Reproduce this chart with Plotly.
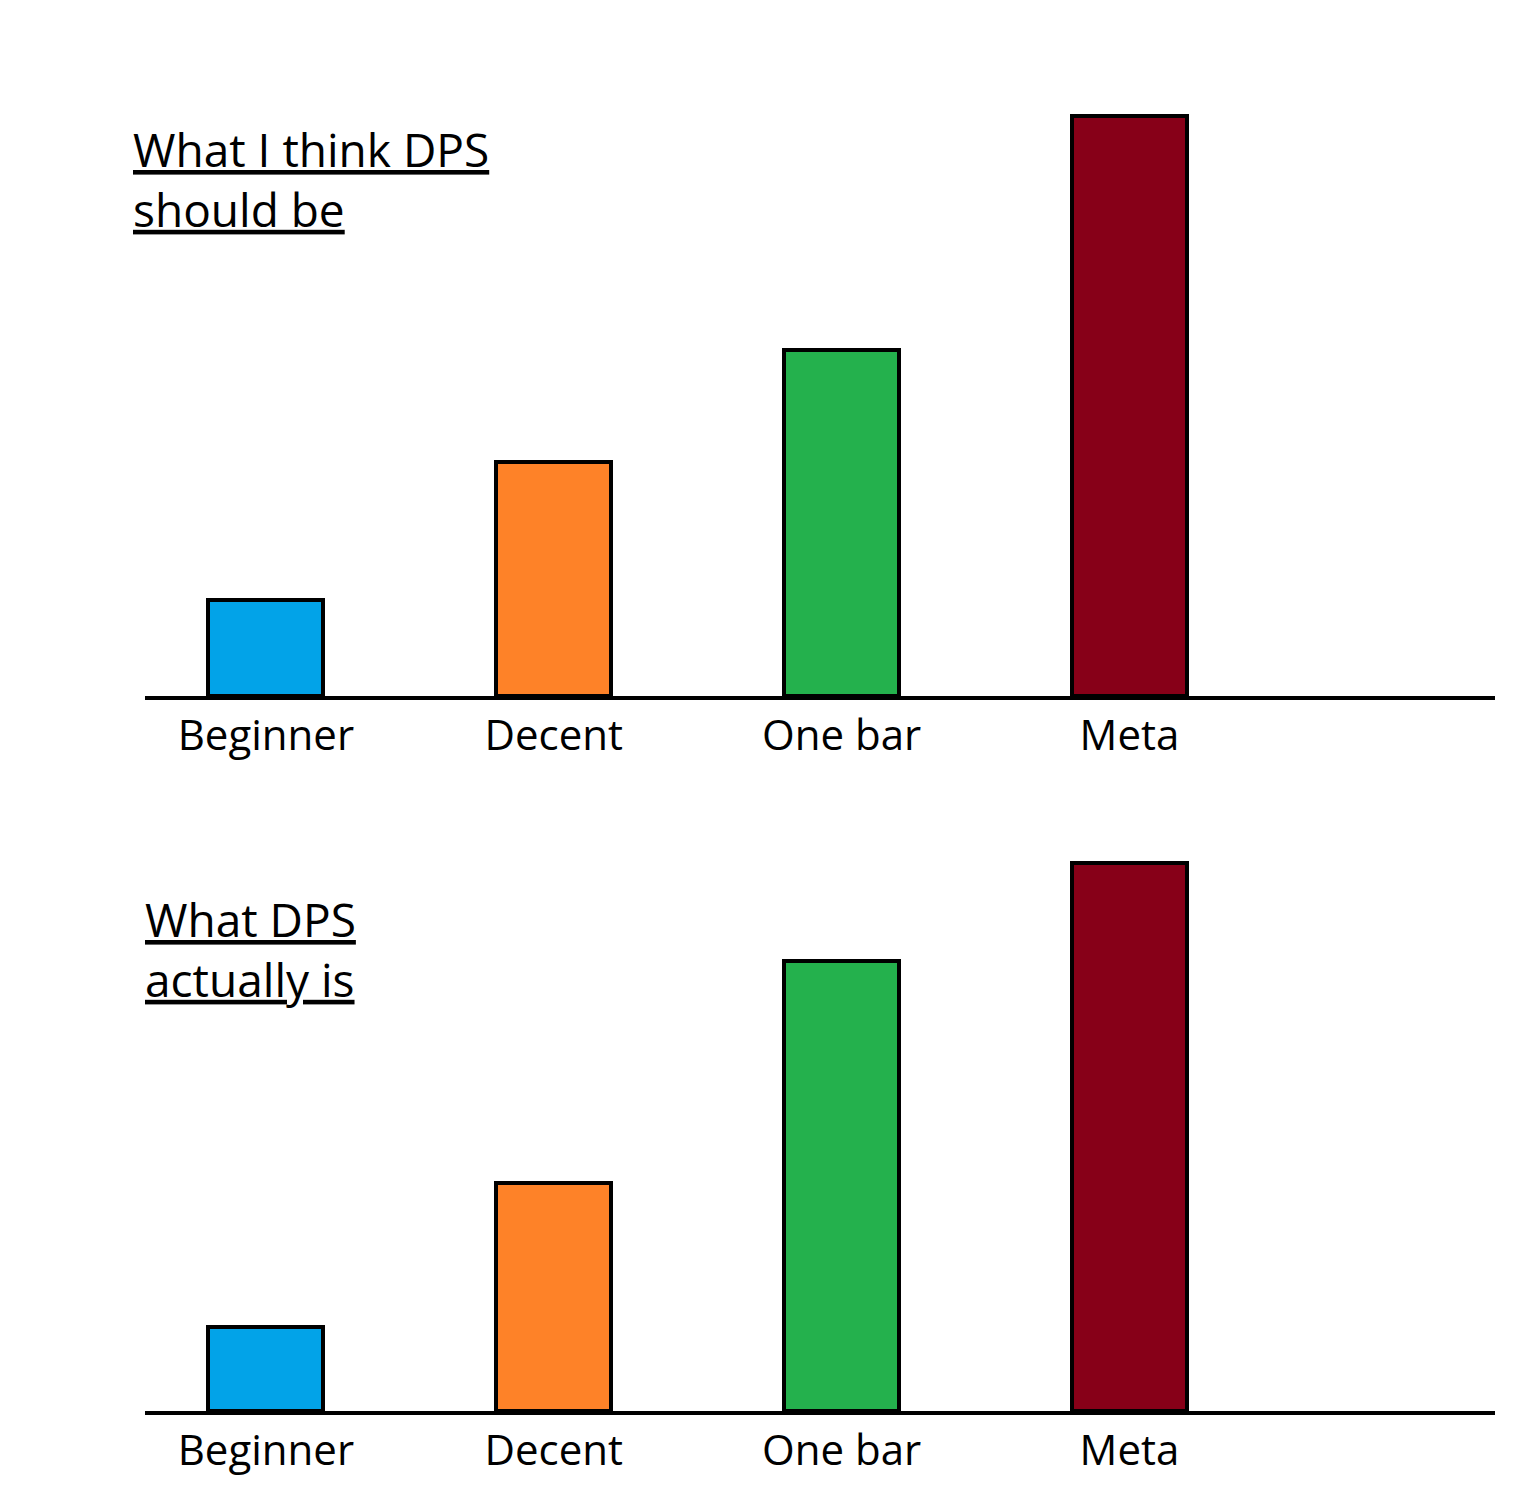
import plotly.graph_objects as go
from plotly.subplots import make_subplots

categories = ["Beginner", "Decent", "One bar", "Meta"]
should_be = [96, 234, 346, 580]
actually_is = [84, 228, 450, 548]
colors = ["#02a3e8", "#fe8228", "#24b14d", "#870018"]

fig = make_subplots(rows=2, cols=1)

for row, vals in [(1, should_be), (2, actually_is)]:
    fig.add_trace(go.Bar(
        x=categories, y=vals, width=0.4,
        marker=dict(color=colors, line=dict(color="black", width=4)),
        showlegend=False), row=row, col=1)

W, H = 1525, 1506
axis_common = dict(showline=True, linecolor="black", linewidth=4, showgrid=False,
                   ticks="", tickfont=dict(family="Open Sans", size=42, color="black"),
                   range=[-0.42, 4.27], domain=[0, 1])
fig.update_layout(
    width=W, height=H, margin=dict(l=137, r=W - 1487, t=0, b=0),
    plot_bgcolor="white", paper_bgcolor="white", bargap=0,
    xaxis=dict(axis_common, anchor="y"),
    xaxis2=dict(axis_common, anchor="y2"),
    yaxis=dict(visible=False, range=[0, 600], domain=[1 - 688 / H, 1 - 88 / H]),
    yaxis2=dict(visible=False, range=[0, 560], domain=[1 - 1403 / H, 1 - 843 / H]),
    annotations=[
        dict(text="<u>What I think DPS</u><br><u>should be</u>", xref="paper", yref="paper",
             x=(123 - 137) / (1487 - 137), y=1 - 108 / H, xanchor="left", yanchor="top",
             align="left", showarrow=False, font=dict(family="Open Sans", size=46, color="black")),
        dict(text="<u>What DPS</u><br><u>actually is</u>", xref="paper", yref="paper",
             x=(135 - 137) / (1487 - 137), y=1 - 878 / H, xanchor="left", yanchor="top",
             align="left", showarrow=False, font=dict(family="Open Sans", size=46, color="black")),
    ],
)

fig.write_html("out.html")
